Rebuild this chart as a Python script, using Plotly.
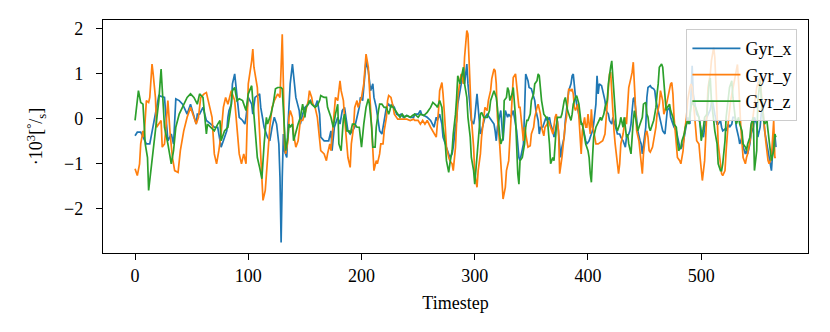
import plotly.graph_objects as go

# ---- Gyr_x (blue) ----
t_x = [0, 2, 5, 10, 13, 21, 26, 29, 32, 34, 36, 39, 42, 46, 49, 54, 55,
       57, 60, 63, 67, 70, 73, 75, 76, 78, 81, 82, 83, 85, 86, 88, 89, 91, 92, 95, 97, 98, 100, 103, 104, 106, 110, 111, 114, 117, 119,
       121, 123, 125, 127, 128, 129, 130, 131, 132, 134, 135, 137, 139, 140, 142, 145, 146, 148, 150, 153, 155, 157, 159, 161, 163, 164, 167, 169, 171, 173, 174, 176, 179, 181, 183,
       185, 187, 188, 190, 192, 194, 196, 198, 199, 201, 203, 204, 206, 208, 210, 211, 213, 214, 216, 218, 219, 221, 222, 224, 226, 227, 229, 231, 233, 235, 237, 240, 243, 246,
       247, 250, 252, 253, 255, 258, 261, 263, 264, 266, 267, 269, 271, 272, 274, 275, 277, 278, 280, 281, 283, 284, 285, 287, 288, 290, 291, 293, 294, 296, 297, 299, 300, 302, 303, 305, 306, 308, 309,
       311, 313, 315, 317, 318, 319, 320, 322, 323, 325, 326, 327, 329, 330, 332, 334, 335, 337, 338, 339, 340, 342, 343, 344, 345, 347, 348, 350, 351, 353, 354, 356, 357, 358, 360, 362, 363, 364, 366, 367, 369, 370, 372, 373,
       375, 376, 377, 379, 380, 382, 383, 385, 386, 387, 388, 389, 390, 392, 393, 395, 396, 398, 399, 401, 402, 404, 405, 407, 408, 409, 410, 412, 413, 415, 416, 418, 419, 421, 422, 424, 425, 426, 428, 429, 431, 433, 434, 436, 437,
       438, 439, 440, 441, 442, 443, 444, 446, 447, 448, 449, 451, 452, 453, 455, 456, 458, 459, 460, 462, 463, 465, 466, 468, 469, 470, 472, 473, 475, 476, 478, 479, 481, 482, 484, 485, 487, 488, 490, 491, 492, 493, 495, 496,
       498, 499, 500, 502, 503, 505, 506, 508, 509, 510, 512, 514, 515, 517, 518, 519, 521, 522, 524, 525, 527, 528, 530, 531, 533, 534, 536, 537, 539, 540, 541, 543, 544, 546, 547, 549, 550, 552, 553, 554, 556, 558, 559, 561, 562, 563, 564, 565, 566]
gyr_x = [-0.38, -0.30, -0.30, -0.56, -0.56, 0.51, 0.47, -0.49, -0.34, -0.56, 0.44, 0.40, 0.32, 0.10, 0.32, -0.12, 0.10,
         0.10, 0.25, -0.04, -0.12, -0.19, -0.19, -0.49, -0.63, -0.49, -0.27, 0.03, 0.18, 0.32, 0.77, 0.99, 0.77, 0.32, 0.03, -0.04, -0.12, 0.03, 0.47, 0.32, 0.10, 0.47, 0.55, 0.25, -0.19, -0.41, -0.49,
         -0.19, 0.03, -0.12, -0.56, -1.30, -2.74, -1.30, -0.34, -0.71, -0.86, -0.19, 0.77, 1.21, 0.91, 0.47, 0.18, -0.12, 0.10, 0.25, 0.32, 0.40, 0.32, 0.25, 0.40, 0.10, -0.41, -0.49, -0.49, -0.49, -0.27, -0.71, -0.19, 0.03, -0.12, 0.18,
         0.25, -0.04, -0.27, -0.34, -0.27, -0.19, 0.03, 0.25, 0.47, 0.40, 0.99, 1.28, 1.06, 0.62, 0.77, 0.47, 0.25, 0.03, -0.27, -0.34, -0.19, 0.10, 0.25, 0.32, 0.25, 0.32, 0.25, 0.10, 0.07, 0.10, 0.03, 0.07, 0.03, 0.03,
         0.10, 0.10, 0.18, 0.10, 0.07, 0.03, -0.04, -0.12, -0.19, 0.03, -0.04, 0.10, -0.12, -0.41, -0.56, -0.63, -0.78, -0.86, -0.78, -0.63, -0.19, -0.04, 0.32, 0.62, 0.84, 1.06, 0.77, 1.21, 0.77, 0.25, -0.04, -0.12, 0.03, 0.55, 0.18, -0.34, -0.27, -0.04, 0.03,
         0.10, 0.03, -0.04, -0.12, -0.27, -0.49, -0.19, 0.03, 0.18, -0.49, -0.19, 0.18, 0.03, 0.10, 0.03, 0.18, 0.03, -0.27, -0.56, -0.86, -0.93, -0.71, -0.56, 0.18, 0.99, 0.84, 0.69, 0.66, 0.55, 0.40, 0.18, -0.04, -0.34, -0.19, -0.19, -0.04, 0.03, -0.04, 0.03, -0.12, -0.27, -0.41, -0.19, -0.04,
         -0.60, -0.86, -0.63, -0.41, -0.04, 0.47, 0.62, 0.77, 0.95, 0.99, 0.62, 0.47, 0.32, 0.10, -0.04, -0.12, -0.27, -0.49, -0.56, -0.49, -0.41, -0.27, -0.12, 0.32, 0.95, 0.55, 0.77, 0.73, 0.62, 0.40, 0.18, 0.10, -0.04, -0.12, 0.03, -0.19, -0.27, -0.34, -0.34, -0.41, -0.49, -0.63, -0.41, -0.34, -0.27,
         -0.12, 0.18, 0.44, 0.47, 0.18, -0.04, -0.27, -0.49, -0.56, -0.78, -0.56, -0.19, 0.47, 0.69, 0.73, 0.69, 0.66, 0.62, 0.40, 0.18, 0.03, -0.12, -0.27, -0.34, -0.12, 0.18, 0.25, 0.03, -0.12, -0.19, -0.27, -0.41, -0.63, -0.67, -0.56, -0.41, -0.12, 0.03, -0.12, 0.55, 1.17, 0.55, 0.25, 0.10,
         0.03, -0.12, -0.27, -0.41, -0.19, 0.03, 0.10, 0.20, 0.35, 0.40, 0.10, -0.12, -0.12, -0.04, -0.19, -0.27, -0.23, -0.27, -0.12, -0.19, -0.12, 0.03, 0.03, -0.19, -0.41, -0.56, -0.41, -0.63, -0.78, -0.71, -0.78, -0.56, -0.34, -0.19, 0.03, -0.12, -0.41, -0.19, 0.10, 0.35, -0.27, -0.56, -0.71, -1.00, -1.15, -0.78, -0.41, -0.34, -0.63]

# ---- Gyr_y (orange) ----
t_y = [0, 2, 4, 5, 7, 8, 10, 12, 13, 15, 16, 18, 19, 21, 23, 24, 26, 27, 29, 31, 33, 35, 38, 40, 43, 46, 49, 52, 54, 56,
       58, 61, 63, 66, 68, 70, 72, 74, 76, 78, 80, 82, 85, 88, 90, 92, 94, 96, 98, 99, 100, 103, 104, 105, 108, 109, 111, 113, 115, 117, 119,
       121, 123, 126, 128, 129, 130, 131, 132, 133, 135, 136, 137, 139, 140, 142, 144, 146, 148, 150, 153, 154, 156, 157, 159, 161, 163, 164, 167, 169, 170, 172, 173, 175, 177, 179, 181, 182, 184,
       185, 187, 188, 190, 191, 193, 194, 196, 197, 199, 200, 202, 203, 204, 206, 207, 209, 210, 211, 213, 214, 216, 217, 219, 220, 222, 223, 224, 226, 228, 229, 232, 234, 237, 240, 243, 246,
       247, 250, 252, 254, 256, 258, 261, 263, 264, 266, 268, 269, 271, 272, 274, 275, 277, 278, 280, 281, 283, 284, 285, 287, 288, 290, 291, 293, 294, 295, 296, 297, 299, 300, 302, 303, 305, 306, 308, 309,
       311, 312, 314, 315, 317, 318, 319, 320, 322, 323, 324, 325, 327, 328, 330, 331, 333, 334, 336, 337, 339, 340, 342, 343, 344, 346, 347, 349, 350, 352, 353, 355, 356, 358, 359, 361, 362, 364, 365, 367, 368, 369, 371, 372, 374,
       375, 377, 378, 380, 381, 382, 383, 385, 386, 387, 388, 389, 391, 392, 393, 394, 395, 397, 398, 399, 400, 401, 402, 403, 404, 405, 407, 409, 413, 415, 416, 418, 419, 420, 421, 423, 424, 426, 427, 428, 429, 431, 432, 433, 434, 435, 436,
       438, 439, 440, 441, 442, 443, 445, 446, 447, 448, 449, 451, 452, 453, 454, 455, 457, 458, 460, 461, 463, 464, 466, 467, 468, 470, 471, 473, 474, 475, 476, 478, 479, 481, 482, 484, 485, 487, 488, 490, 491, 492, 493, 495, 496,
       498, 499, 500, 501, 503, 504, 505, 506, 508, 509, 511, 512, 513, 514, 515, 517, 518, 519, 521, 522, 524, 526, 528, 530, 532, 533, 535, 537, 539, 540, 541, 543, 545, 547, 549, 551, 552, 553, 555, 556, 557, 559, 560, 562, 564, 565, 566]
gyr_y = [-1.11, -1.26, -1.00, -0.56, -0.27, -0.41, 0.40, 0.36, 0.47, 1.21, 0.99, 0.47, -0.19, -0.12, -0.04, -0.63, -0.56, -0.27, 0.40, -0.34, -0.86, -1.15, -1.19, -0.71, -0.27, 0.03, 0.25, 0.03, -0.12, 0.03,
         0.47, 0.55, 0.58, 0.25, 0.03, -0.78, -1.00, -0.71, -0.34, 0.25, 0.47, 0.32, 0.62, 0.40, -0.19, -0.78, -1.00, -0.78, -1.00, -0.12, 0.77, 1.28, 1.54, 1.14, 0.69, 0.18, -0.86, -1.81, -1.59, -0.86, -0.19,
         0.25, 0.40, 0.55, 0.47, 1.14, 1.87, 0.77, -0.56, -0.78, -0.49, 0.03, 0.18, 0.03, -0.34, -0.63, -0.49, -0.04, -0.04, 0.10, 0.40, 0.62, 0.47, 0.32, 0.25, 0.03, -0.41, -0.71, -0.78, -0.93, -0.78, -0.56, -0.71, -0.04, 0.47, 0.40, 0.84, 0.62, 0.40,
         0.03, -0.63, -0.86, -1.08, -0.56, -0.19, 0.25, 0.40, 0.25, 0.40, 0.47, 0.77, 1.14, 1.43, 1.14, 0.62, -0.12, -0.86, -1.15, -0.93, -1.00, -0.78, -0.56, -0.56, -0.27, 0.03, 0.40, 0.51, 0.47, 0.25, 0.10, -0.01, -0.01, -0.01, -0.01, -0.04, -0.01,
         -0.04, -0.04, -0.12, -0.04, -0.12, -0.04, -0.19, -0.27, -0.34, -0.41, 0.18, 0.62, 0.80, 0.55, -0.19, -0.63, -0.86, -0.93, -1.00, -1.15, -0.63, -0.12, 0.47, 0.84, 0.99, 0.77, 1.36, 1.95, 1.87, 1.28, 0.62, 0.03, -0.63, -1.22, -1.52, -1.15, -0.78, -0.41, 0.03, 0.25,
         0.18, 0.40, 0.62, 0.88, 1.10, 1.06, 0.77, 0.03, -0.56, -1.08, -1.59, -1.78, -1.52, -1.15, -0.93, -0.49, 0.55, 0.91, 0.99, 0.77, 0.25, 0.25, -0.27, -0.49, -0.19, -0.49, -0.63, -0.60, -0.34, -0.19, 0.03, 0.25, 0.32, 0.10, -0.19, -0.38, -0.19, -0.12, -0.04, -0.19, -0.27, -0.34, 0.03, 0.10, -0.27,
         -1.22, -0.86, -0.56, -0.12, 0.03, 0.47, 0.66, 0.62, 0.66, 0.55, 0.25, 0.18, 0.32, 0.03, -0.41, -0.78, -0.27, 0.03, -0.19, -0.19, 0.10, -0.12, -0.34, 0.21, -0.19, -0.27, -0.56, -0.56, -0.49, -0.34, 0.03, 0.62, 0.99, 1.03, 0.55, -0.27, -0.56, -0.93, -1.22, -1.00, -0.56, -0.34, -0.12, 0.03, -0.12, 0.25, 0.69,
         0.91, 1.03, 1.25, 0.77, 0.10, -0.27, -0.49, -0.71, -0.93, -1.22, -0.78, -0.34, -0.27, -0.41, -0.71, -0.74, -0.63, -0.49, -0.19, 0.10, 0.32, 0.62, 0.40, 0.10, 0.18, 0.40, 0.55, 0.77, 0.80, 0.55, 0.03, -0.49, -0.86, -0.93, -1.00, -0.71, -0.34, 0.03, 0.40, 0.69, 0.77, 0.69, 0.32, -0.19, -0.49,
         -0.56, -0.86, -1.22, -1.37, -0.93, -0.41, 0.18, 0.69, 0.99, 1.28, 1.58, 1.36, 0.77, 0.10, -0.56, -1.00, -1.22, -1.26, -1.15, -0.71, -0.04, 0.40, 0.70, 1.00, 1.20, 0.80, -0.20, -0.86, -1.00, -0.86, -0.78, -0.50, -0.10, 0.32, 0.69, 0.85, 0.91, 0.60, -0.04, -0.19, -0.50, -0.93, -1.00, -0.86, -0.04, -0.86, -0.86]

# ---- Gyr_z (green) ----
t_z = [0, 3, 5, 7, 9, 11, 12, 13, 16, 18, 21, 23, 25, 26, 29, 32, 34, 36, 39, 42, 46, 49, 52, 55,
       57, 60, 63, 64, 67, 70, 73, 75, 76, 79, 82, 85, 86, 88, 90, 92, 95, 98, 100, 103, 104, 106, 108, 110, 112, 114, 116, 117, 119,
       120, 122, 124, 126, 129, 130, 131, 132, 133, 135, 136, 137, 139, 140, 142, 144, 146, 148, 150, 151, 153, 154, 156, 159, 161, 163, 164, 167, 169, 170, 173, 175, 177, 179, 180, 182,
       184, 185, 187, 189, 190, 192, 194, 196, 198, 200, 202, 204, 206, 207, 209, 210, 212, 213, 215, 216, 218, 220, 222, 224, 225, 226, 228, 230, 232, 234, 236, 238, 240, 243, 245,
       247, 250, 252, 255, 258, 261, 263, 266, 267, 269, 271, 272, 274, 275, 277, 278, 280, 281, 283, 284, 285, 287, 288, 290, 291, 293, 294, 296, 297, 299, 300, 301, 303, 304, 305, 306, 308,
       311, 313, 314, 316, 317, 319, 320, 322, 323, 325, 326, 328, 329, 330, 331, 333, 334, 336, 337, 338, 339, 340, 342, 344, 345, 346, 347, 349, 350, 352, 353, 355, 356, 357, 359, 360, 361, 363, 364, 366, 367, 369, 370, 372, 373,
       376, 377, 379, 380, 381, 382, 384, 385, 386, 387, 389, 390, 392, 393, 394, 395, 397, 398, 400, 401, 402, 403, 404, 405, 407, 408, 409, 411, 412, 414, 415, 417, 418, 420, 421, 422, 424, 425, 426, 428, 429, 431, 432, 434, 435, 436, 438,
       439, 440, 441, 443, 444, 445, 446, 448, 449, 451, 452, 453, 454, 455, 456, 458, 459, 460, 461, 462, 463, 465, 466, 467, 468, 469, 470, 472, 473, 475, 476, 478, 479, 480, 482, 483, 485, 486, 488, 489, 490, 492, 493, 495, 496,
       498, 499, 500, 502, 503, 505, 507, 508, 509, 511, 512, 514, 515, 517, 518, 519, 521, 522, 524, 525, 527, 528, 530, 531, 533, 534, 536, 537, 539, 540, 541, 543, 544, 546, 547, 549, 550, 552, 553, 555, 556, 558, 559, 561, 562, 564, 565, 566]
gyr_z = [-0.04, 0.62, 0.36, 0.32, -0.56, -0.86, -1.59, -1.37, -0.71, -0.19, 0.40, 1.10, 0.32, -0.19, -0.56, -1.00, -0.71, -0.19, 0.10, 0.25, 0.47, 0.55, 0.47, 0.32,
         0.55, 0.47, -0.34, -0.12, -0.19, -0.27, -0.12, -0.04, -0.49, -0.27, -0.19, 0.32, 0.62, 0.69, 0.40, 0.44, 0.40, 0.18, 0.55, 0.73, 0.40, -0.34, -0.86, -1.08, -1.33, -0.56, 0.03, -0.12, 0.03,
         0.10, 0.32, 0.66, 0.69, 0.69, 0.66, 0.10, -0.34, -0.71, -0.41, -0.12, -0.19, -0.12, -0.49, -0.27, -0.12, 0.03, 0.32, 0.03, 0.25, 0.32, 0.40, 0.32, 0.25, 0.29, 0.40, 0.51, 0.47, 0.47, 0.25, 0.03, -0.19, 0.10, 0.32, -0.56, -0.71,
         0.00, 0.10, -0.27, -0.27, -0.34, -0.12, -0.12, -0.19, -0.19, -0.63, -0.12, 0.25, 0.44, 0.32, -0.19, -0.63, -0.63, -0.19, 0.18, 0.32, 0.32, 0.25, 0.25, 0.10, 0.18, 0.29, 0.25, 0.18, 0.10, 0.03, 0.10, 0.03, 0.07, 0.03, 0.07,
         0.10, 0.03, 0.10, 0.07, 0.14, 0.25, 0.36, 0.29, 0.25, 0.40, 0.25, -0.19, -0.56, -0.93, -1.19, -1.00, -0.71, -0.34, 0.10, 0.47, 0.95, 0.77, 0.91, 1.14, 0.77, 0.47, 0.03, -0.41, -0.86, -1.15, -1.45, -1.15, -0.63, -0.27, 0.10, 0.14, 0.03,
         0.03, 0.18, 0.40, 0.55, 0.62, 0.47, 0.25, -0.34, -0.56, -0.41, 0.40, 0.47, 0.69, 0.62, 0.40, 0.55, 0.69, 0.03, -0.63, -1.22, -1.45, -0.93, -0.86, -0.56, -0.19, -0.04, -0.04, 0.10, 0.40, 0.55, 0.77, 0.84, 0.99, 0.95, 0.40, 0.25, 0.10, 0.03, 0.03, -0.56, -1.00, -0.86, -0.93, -0.19, 0.03,
         0.03, 0.10, 0.40, 0.47, 0.32, 0.18, 0.03, -0.04, 0.10, 0.32, 0.47, 0.51, 0.32, 0.03, -0.12, -0.12, -0.41, -0.56, -0.71, -0.86, -1.22, -1.41, -0.86, -0.41, -0.19, -0.12, -0.08, 0.03, -0.04, 0.10, 0.25, 0.40, 0.77, 1.14, 1.28, 0.91, 0.18, -0.19, -0.27, -0.12, 0.03, -0.19, 0.03, -0.41, -0.34, -0.56, -0.78,
         -0.34, -0.04, 0.18, -0.12, -0.27, -0.19, -0.12, 0.03, 0.32, 0.36, 0.10, 0.03, -0.19, -0.27, -0.19, -0.04, 0.10, 0.25, 0.55, 0.77, 1.14, 1.21, 1.14, 0.77, 0.32, 0.18, 0.25, 0.32, 0.18, 0.03, -0.12, -0.19, -0.49, -0.71, -0.63, -0.49, -0.34, -0.19, -0.04, -0.12, 0.10, 0.40, 0.32, 0.25, 0.18,
         0.03, -0.12, -0.49, -0.19, 0.03, 0.10, 0.80, 0.90, 0.40, -0.04, -0.27, -0.56, -1.00, -1.15, -1.15, -1.00, -0.49, 0.03, 0.40, 0.69, 0.84, 0.47, 0.03, -0.12, 0.03, -0.12, -0.27, -0.56, -0.63, -0.71, -0.56, -0.41, -0.12, 0.03, -1.15, -0.71, 0.40, 0.84, 0.47, -0.04, -0.12, -0.04, -0.27, -0.63, -0.93, -0.71, -0.34, -0.41]

series = [("Gyr_x", t_x, gyr_x, "#1f77b4"),
          ("Gyr_y", t_y, gyr_y, "#ff7f0e"),
          ("Gyr_z", t_z, gyr_z, "#2ca02c")]

x_ticks = [0, 100, 200, 300, 400, 500]
y_ticks = [-2, -1, 0, 1, 2]

FONT = "Liberation Serif"
FS = 18

fig = go.Figure()
for name, t, v, c in series:
    fig.add_trace(go.Scatter(x=t, y=v, mode="lines", name=name,
                             line=dict(color=c, width=1.7)))

axis_common = dict(showline=True, linecolor="black", linewidth=1.3, mirror=True,
                   showgrid=False, zeroline=False, ticks="outside", ticklen=6,
                   tickwidth=1.3, tickcolor="black",
                   tickfont=dict(family=FONT, size=FS, color="black"))

fig.update_xaxes(range=[-28.3, 594.3], tickvals=x_ticks, ticklabelstandoff=0,
                 title=dict(text="Timestep", font=dict(family=FONT, size=FS, color="black"), standoff=11),
                 **axis_common)
fig.update_yaxes(range=[-2.975, 2.185], tickvals=y_ticks, ticklabelstandoff=9,
                 title=dict(text="·10<sup>3</sup>[<sup>°</sup>/<sub>s</sub>]",
                            font=dict(family=FONT, size=FS, color="black"), standoff=16),
                 **axis_common)

fig.update_layout(
    width=830, height=332,
    margin=dict(l=103, r=22, t=20, b=79),
    paper_bgcolor="white", plot_bgcolor="white",
    showlegend=True,
    legend=dict(x=0.985, y=0.961, xanchor="right", yanchor="top",
                bgcolor="rgba(255,255,255,0.8)", bordercolor="#cccccc", borderwidth=1,
                font=dict(family=FONT, size=FS, color="black"), itemwidth=48,
                tracegroupgap=0),
    font=dict(family=FONT, size=FS, color="black"),
)

fig.write_html("out.html", config={"displayModeBar": False},
               post_script="document.body.style.margin='0';")
